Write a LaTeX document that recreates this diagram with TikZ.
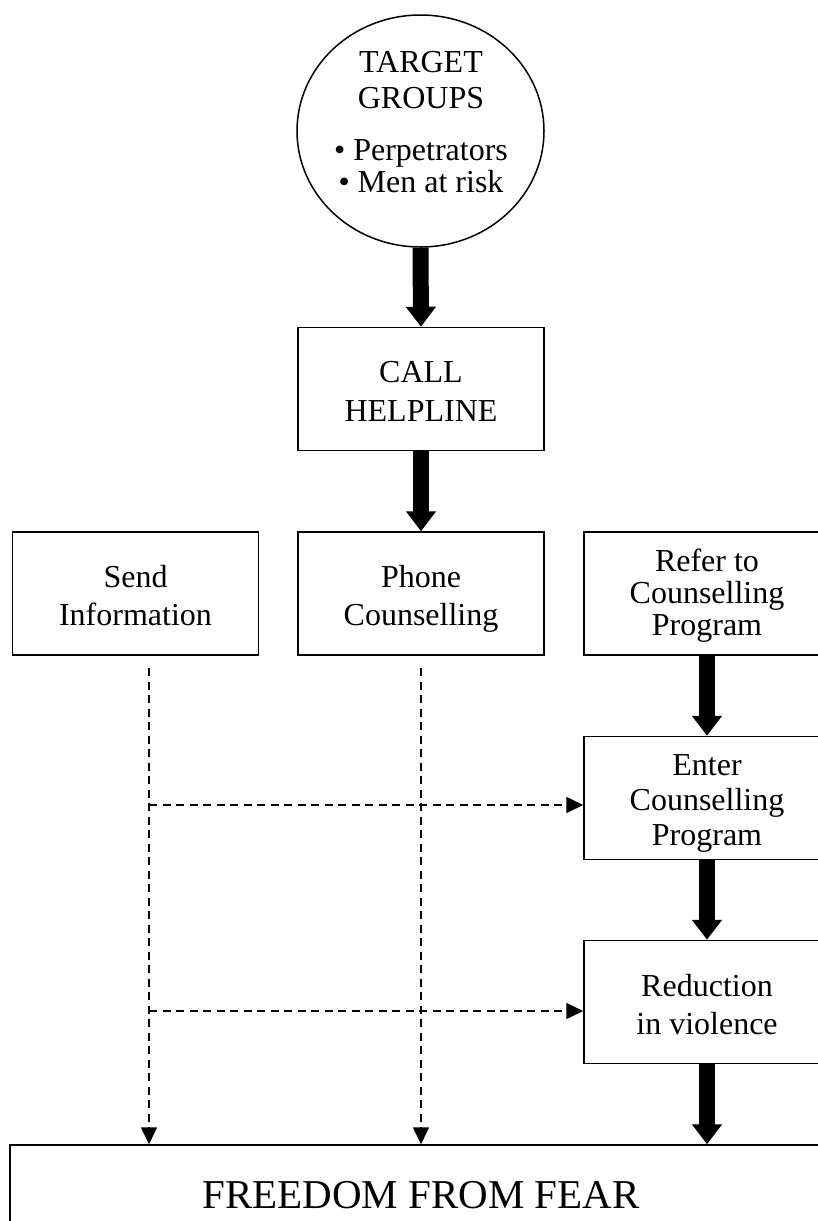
\documentclass[tikz,border=0pt]{standalone}
\usepackage{fontspec}
\setmainfont{Liberation Serif}
\usetikzlibrary{arrows.meta,shapes.geometric}
\begin{document}
\begin{tikzpicture}[x=1pt,y=-1pt,
  box/.style={draw,line width=1.5pt,minimum width=246pt,minimum height=123pt,inner sep=0pt},
  txt/.style={anchor=south,inner sep=0pt,align=center,text depth=0pt,font=\fontsize{32}{38}\selectfont},
  txtb/.style={txt,font=\fontsize{32}{39}\selectfont},
  txtr/.style={txt,font=\fontsize{32}{32}\selectfont},
  txte/.style={txt,font=\fontsize{32}{35}\selectfont},
  ctext/.style={anchor=base,inner sep=0pt,font=\fontsize{32}{36}\selectfont},
  thickarrow/.style={line width=16pt,-{Triangle[width=29pt,length=20pt]}},
  dasharrow/.style={line width=1.6pt,dash pattern=on 8pt off 5.5pt,-{Triangle[width=16pt,length=17pt]}}]
\useasboundingbox (0,0) rectangle (818,1221);
\clip (0,0) rectangle (818,1221);
\fill[white] (0,0) rectangle (818,1221);
% circle
\node[ellipse,draw,line width=1.5pt,minimum width=247pt,minimum height=232pt,inner sep=0pt] (target) at (420.5,131) {};
\node[ctext] (t1) at (421,72) {TARGET};
\node[ctext] (t2) at (421,108) {GROUPS};
\node[ctext] (t3) at (421,160) {\textbullet\ Perpetrators};
\node[ctext] (t4) at (421,192) {\textbullet\ Men at risk};
% boxes
\node[box] (call) at (421,389) {};
\node[box] (send) at (135.5,593.5) {};
\node[box] (phone) at (421,593.5) {};
\node[box] (refer) at (707,593.5) {};
\node[box] (enter) at (707,798) {};
\node[box] (reduction) at (707,1002) {};
\node[draw,line width=1.5pt,minimum width=822pt,minimum height=100pt,inner sep=0pt,font=\fontsize{41}{41}\selectfont] (freedom) at (421,1195) {FREEDOM FROM FEAR};
% box texts
\node[txtb] (calltxt) at (421,422) {CALL\\HELPLINE};
\node[txt] (sendtxt) at (135.5,626) {Send\\Information};
\node[txt] (phonetxt) at (421,626) {Phone\\Counselling};
\node[txtr] (refertxt) at (707,636) {Refer to\\Counselling\\Program};
\node[txte] (entertxt) at (707,846) {Enter\\Counselling\\Program};
\node[txt] (reductiontxt) at (707,1035) {Reduction\\in violence};
% thick arrows
\draw[thickarrow] (target.south) -- (call.north);
\draw[thickarrow] (call.south) -- (phone.north);
\draw[thickarrow] (refer.south) -- (enter.north);
\draw[thickarrow] (enter.south) -- (reduction.north);
\draw[thickarrow] (reduction.south) -- (reduction.south |- freedom.north);
% dashed arrows
\coordinate (d1) at (149,668);
\coordinate (d2) at (421,668);
\coordinate (h1) at (149,805);
\coordinate (h2) at (149,1011);
\draw[dasharrow] (d1) -- (d1 |- freedom.north);
\draw[dasharrow] (d2) -- (d2 |- freedom.north);
\draw[dasharrow] (h1) -- (h1 -| enter.west);
\draw[dasharrow] (h2) -- (h2 -| reduction.west);
\end{tikzpicture}
\end{document}
